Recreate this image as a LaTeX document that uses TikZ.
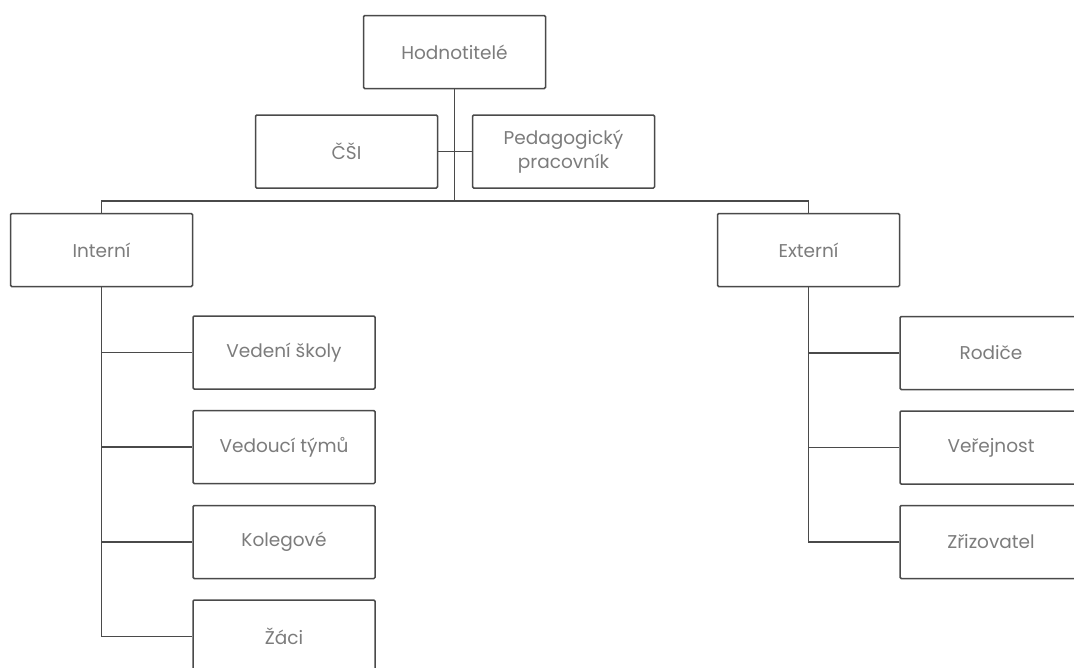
\documentclass[tikz,border=0pt]{standalone}
\usepackage{fontspec}
\setmainfont{Poppins}
\definecolor{linec}{HTML}{4A4A4A}
\definecolor{textc}{HTML}{7C7C7C}
\begin{document}
\begin{tikzpicture}[x=1pt,y=-1pt,
  box/.style={draw=linec, line width=1.5pt, rounded corners=1.2pt, minimum width=182pt, minimum height=73pt,
    inner sep=0pt, text=textc, font=\fontsize{18.5}{24}\selectfont, align=center},
  conn/.style={draw=linec, line width=1.5pt}]
\useasboundingbox (0,0) rectangle (1074,667);
\clip (0,0) rectangle (1074,667);
\fill[white] (0,0) rectangle (1074,667);
\node[box] (top) at (454.5,52) {Hodnotitelé};
\node[box] (csi) at (346.5,151.5) {ČŠI};
\node[box] (ped) at (563.5,151.5) {Pedagogický\\pracovník};
\node[box] (int) at (101.5,250) {Interní};
\node[box] (ext) at (808.5,250) {Externí};
\node[box] (ved) at (284,352.5) {Vedení školy};
\node[box] (vt)  at (284,447) {Vedoucí týmů};
\node[box] (kol) at (284,542) {Kolegové};
\node[box] (zac) at (284,636.5) {Žáci};
\node[box] (rod) at (991,353) {Rodiče};
\node[box] (ver) at (991,447.5) {Veřejnost};
\node[box] (zri) at (991,542) {Zřizovatel};
\coordinate (bus) at (0,201);
\draw[conn] (top.south) -- (top.south |- bus);
\draw[conn] (int.north) -- (int.north |- bus) -| (ext.north);
\draw[conn] (csi.east) -- (ped.west);
\draw[conn] (int.south) |- (zac.west);
\draw[conn] (int.south |- ved.west) -- (ved.west);
\draw[conn] (int.south |- vt.west) -- (vt.west);
\draw[conn] (int.south |- kol.west) -- (kol.west);
\draw[conn] (ext.south) |- (zri.west);
\draw[conn] (ext.south |- rod.west) -- (rod.west);
\draw[conn] (ext.south |- ver.west) -- (ver.west);
\end{tikzpicture}
\end{document}
